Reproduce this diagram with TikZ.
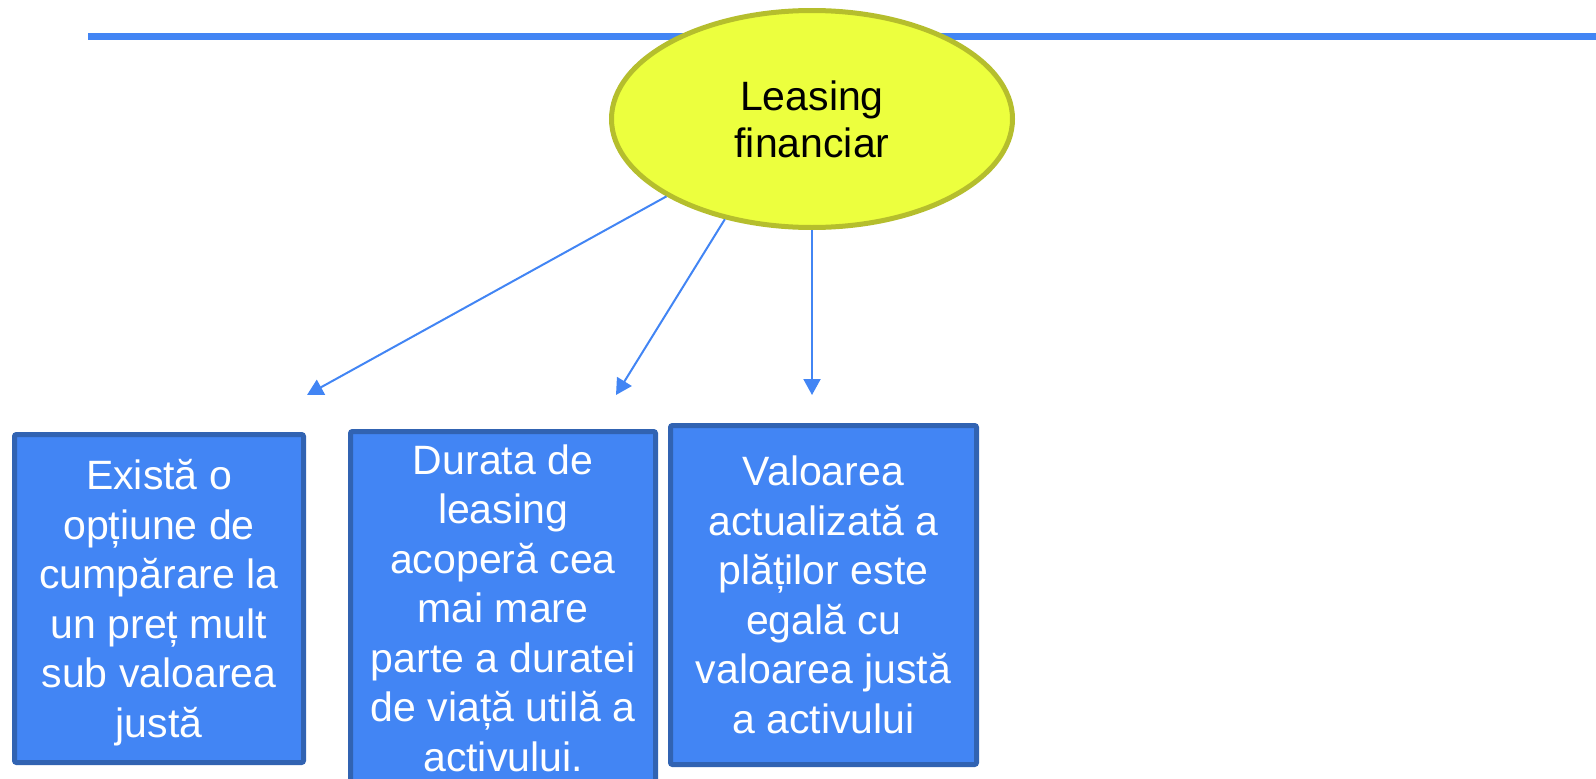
\documentclass[tikz,border=0pt]{standalone}
\usepackage{fontspec}
\setmainfont{Liberation Sans}
\usetikzlibrary{shapes.geometric,arrows.meta}
\definecolor{boxblue}{RGB}{66,133,244}
\definecolor{boxedge}{RGB}{49,99,178}
\definecolor{ellfill}{RGB}{236,255,62}
\definecolor{elledge}{RGB}{181,190,45}
\definecolor{linkblue}{RGB}{66,133,244}
\tikzset{
  infobox/.style={rectangle, draw=boxedge, fill=boxblue, line width=5pt, rounded corners=2pt,
    inner sep=0pt, text=white, align=center, font=\fontsize{41}{49.5}\selectfont},
  bubble/.style={ellipse, draw=elledge, fill=ellfill, line width=5pt, inner sep=0pt,
    minimum width=401pt, minimum height=217pt, align=center, font=\fontsize{41}{47}\selectfont},
  link/.style={draw=linkblue, line width=2pt, -{Triangle[length=16pt,width=17pt]}},
  topline/.style={draw=linkblue, line width=7pt}
}
\begin{document}
\begin{tikzpicture}[x=1pt,y=-1pt]
\useasboundingbox (0,0) rectangle (1596,779);
\clip (0,0) rectangle (1596,779);
\coordinate (lineL) at (88,36);
\coordinate (lineR) at (1596,36);
\draw[topline] (lineL) -- (lineR);
\node[bubble] (ell) at (812,119) {Leasing\\financiar};
\node[infobox, minimum width=289pt, minimum height=328pt] (b1) at (159,598.5)
  {Există o\\opțiune de\\cumpărare la\\un preț mult\\sub valoarea\\\smash{justă}};
\node[infobox, minimum width=305pt, minimum height=353pt] (b2) at (503,608)
  {Durata de\\leasing\\acoperă cea\\mai mare\\parte a duratei\\de viață utilă a\\activului.};
\node[infobox, minimum width=306pt, minimum height=339pt] (b3) at (823.5,595)
  {Valoarea\\actualizată a\\plăților este\\egală cu\\valoarea justă\\a activului};
\coordinate (t1) at (307,395);
\coordinate (t2) at (616,395);
\coordinate (t3) at (812,395);
\draw[link] (ell.208.9) -- (t1);
\draw[link] (ell.229) -- (t2);
\draw[link] (ell.270) -- (t3);
\end{tikzpicture}
\end{document}
